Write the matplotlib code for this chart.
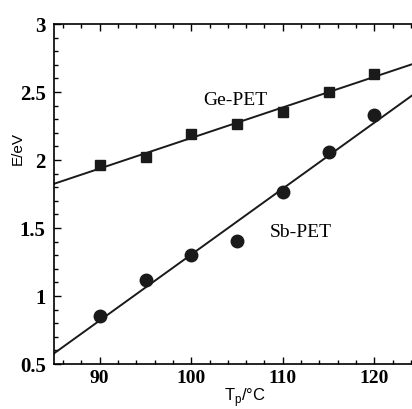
import numpy as np
import matplotlib
matplotlib.use("Agg")
import matplotlib.pyplot as plt
from matplotlib.ticker import MultipleLocator

# Data
temps = [90, 95, 100, 105, 110, 115, 120]
ge_pet = [1.96, 2.02, 2.19, 2.265, 2.35, 2.50, 2.635]
sb_pet = [0.85, 1.12, 1.30, 1.405, 1.765, 2.06, 2.33]
x_ticks = [90, 100, 110, 120]
y_ticks = [0.5, 1, 1.5, 2, 2.5, 3]
y_tick_labels = ["0.5", "1", "1.5", "2", "2.5", "3"]

fig = plt.figure(figsize=(4.12, 4.09), dpi=100)
ax = fig.add_axes([54/412, 45/409, 366/412, 340/409])

xs = np.array([85, 125])
for vals, marker, ms in [(ge_pet, "s", 7.2), (sb_pet, "o", 9.0)]:
    k, b = np.polyfit(temps, vals, 1)
    ax.plot(xs, k*xs + b, color="#1a1a1a", lw=1.4, zorder=2)
    ax.plot(temps, vals, linestyle="none", marker=marker, ms=ms,
            color="#1a1a1a", zorder=3)

ax.set_xlim(85, 125)
ax.set_ylim(0.5, 3)
ax.set_xticks(x_ticks)
ax.set_yticks(y_ticks)
ax.set_yticklabels(y_tick_labels)
ax.xaxis.set_minor_locator(MultipleLocator(2))
ax.yaxis.set_minor_locator(MultipleLocator(0.1))
ax.tick_params(which="both", direction="in", top=True, right=True, width=1)
ax.tick_params(which="major", length=5)
ax.tick_params(which="minor", length=3)
ax.tick_params(axis="x", pad=4)
ax.tick_params(axis="y", pad=6)
for lab in ax.get_xticklabels():
    lab.set_fontfamily("Liberation Serif")
    lab.set_fontweight("bold")
    lab.set_fontsize(14)
for lab in ax.get_yticklabels():
    lab.set_fontfamily("Liberation Serif")
    lab.set_fontweight("bold")
    lab.set_fontsize(15)
for s in ax.spines.values():
    s.set_linewidth(1.2)

ax.text(104.8, 2.44, "Ge-PET", family="Liberation Serif", fontsize=14,
        ha="center", va="center")
ax.text(112.0, 1.47, "Sb-PET", family="Liberation Serif", fontsize=14,
        ha="center", va="center")

ax.set_ylabel("E/eV", family="Liberation Sans", fontsize=11)
ax.yaxis.set_label_coords(-0.098, 0.635)
ax.set_xlabel("T$_\\mathregular{p}$/°C", family="Liberation Sans", fontsize=12)
ax.xaxis.set_label_coords((245-54)/366, -(398-364)/340)
ax.xaxis.label.set_va("center")
ax.yaxis.label.set_va("center")

fig.savefig("out.png", dpi=100)
